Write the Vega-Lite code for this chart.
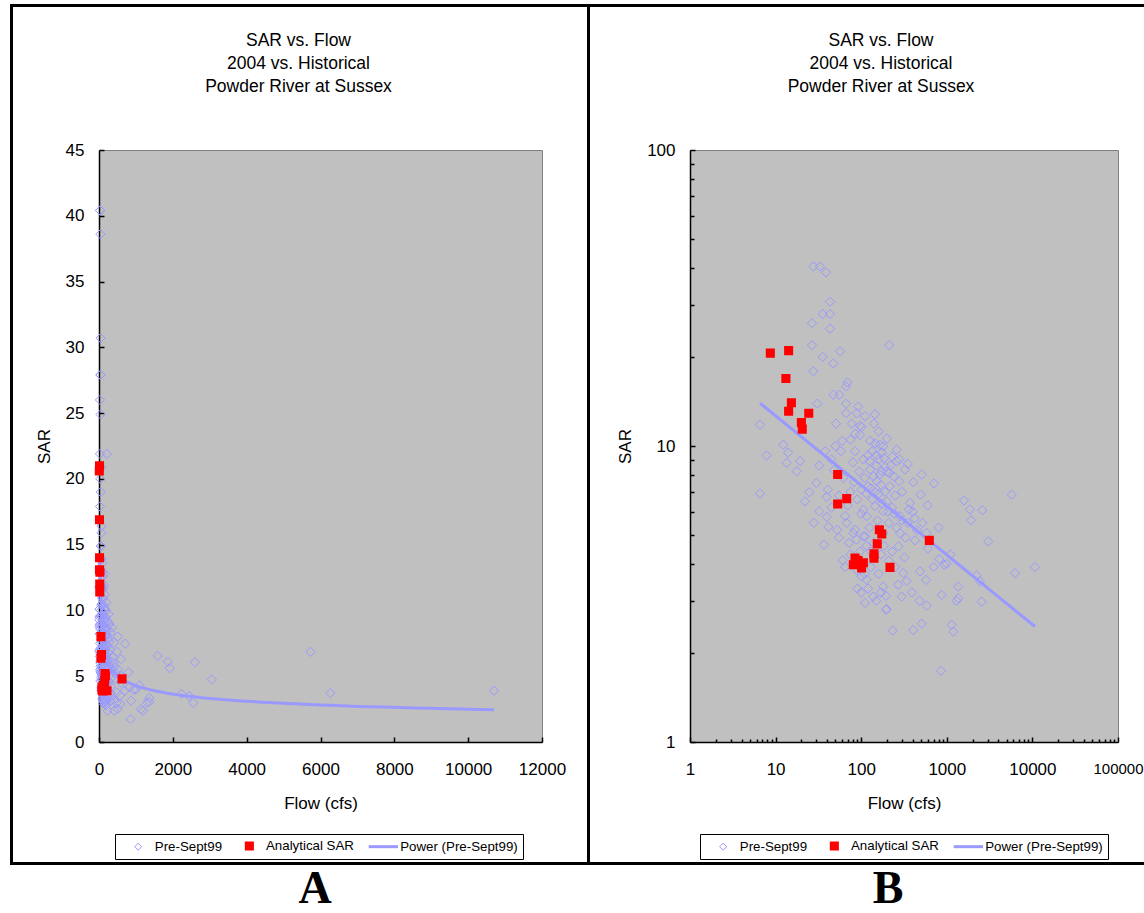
{
  "$schema": "https://vega.github.io/schema/vega-lite/v6.json",
  "padding": {"left": 10, "top": 4, "right": 0, "bottom": 0},
  "background": "#ffffff",
  "datasets": {
    "one": [{"k": 1}],
    "pts": [
      {"Q":27.6,"SAR":40.4,"series":"Pre-Sept99"},{"Q":33,"SAR":40.4,"series":"Pre-Sept99"},{"Q":38.8,"SAR":38.6,"series":"Pre-Sept99"},
      {"Q":43.2,"SAR":30.7,"series":"Pre-Sept99"},{"Q":35.5,"SAR":27.9,"series":"Pre-Sept99"},{"Q":43.2,"SAR":27.9,"series":"Pre-Sept99"},
      {"Q":26.6,"SAR":26.0,"series":"Pre-Sept99"},{"Q":43.2,"SAR":24.9,"series":"Pre-Sept99"},{"Q":26.6,"SAR":21.9,"series":"Pre-Sept99"},
      {"Q":56.6,"SAR":20.9,"series":"Pre-Sept99"},{"Q":35.5,"SAR":20.0,"series":"Pre-Sept99"},{"Q":47.2,"SAR":19.0,"series":"Pre-Sept99"},
      {"Q":27.6,"SAR":17.9,"series":"Pre-Sept99"},{"Q":213,"SAR":21.9,"series":"Pre-Sept99"},{"Q":68.8,"SAR":16.4,"series":"Pre-Sept99"},
      {"Q":66.4,"SAR":15.9,"series":"Pre-Sept99"},{"Q":47.2,"SAR":14.9,"series":"Pre-Sept99"},{"Q":55.5,"SAR":14.9,"series":"Pre-Sept99"},
      {"Q":30.7,"SAR":13.9,"series":"Pre-Sept99"},{"Q":66.4,"SAR":13.9,"series":"Pre-Sept99"},{"Q":92.5,"SAR":13.6,"series":"Pre-Sept99"},
      {"Q":88.5,"SAR":12.9,"series":"Pre-Sept99"},{"Q":66.4,"SAR":12.9,"series":"Pre-Sept99"},{"Q":6.57,"SAR":11.8,"series":"Pre-Sept99"},
      {"Q":50.8,"SAR":11.9,"series":"Pre-Sept99"},{"Q":77.4,"SAR":11.9,"series":"Pre-Sept99"},{"Q":96.8,"SAR":11.7,"series":"Pre-Sept99"},
      {"Q":141,"SAR":11.9,"series":"Pre-Sept99"},{"Q":96.8,"SAR":10.9,"series":"Pre-Sept99"},{"Q":12.3,"SAR":10.1,"series":"Pre-Sept99"},
      {"Q":7.87,"SAR":9.29,"series":"Pre-Sept99"},{"Q":13.5,"SAR":8.77,"series":"Pre-Sept99"},{"Q":19.3,"SAR":8.89,"series":"Pre-Sept99"},
      {"Q":17.6,"SAR":8.22,"series":"Pre-Sept99"},{"Q":32.4,"SAR":8.59,"series":"Pre-Sept99"},{"Q":6.57,"SAR":6.91,"series":"Pre-Sept99"},
      {"Q":24.8,"SAR":6.98,"series":"Pre-Sept99"},{"Q":40.6,"SAR":7.12,"series":"Pre-Sept99"},{"Q":39.5,"SAR":6.73,"series":"Pre-Sept99"},
      {"Q":32.4,"SAR":6.02,"series":"Pre-Sept99"},{"Q":39.5,"SAR":5.76,"series":"Pre-Sept99"},{"Q":41.3,"SAR":5.33,"series":"Pre-Sept99"},
      {"Q":67.7,"SAR":5.5,"series":"Pre-Sept99"},{"Q":52.6,"SAR":5.21,"series":"Pre-Sept99"},{"Q":36.7,"SAR":4.64,"series":"Pre-Sept99"},
      {"Q":60.8,"SAR":4.11,"series":"Pre-Sept99"},{"Q":80.9,"SAR":5.08,"series":"Pre-Sept99"},{"Q":88.5,"SAR":4.83,"series":"Pre-Sept99"},
      {"Q":106,"SAR":4.95,"series":"Pre-Sept99"},{"Q":96.8,"SAR":4.4,"series":"Pre-Sept99"},{"Q":101,"SAR":3.63,"series":"Pre-Sept99"},
      {"Q":116,"SAR":3.53,"series":"Pre-Sept99"},{"Q":111,"SAR":2.95,"series":"Pre-Sept99"},{"Q":138,"SAR":3.1,"series":"Pre-Sept99"},
      {"Q":181,"SAR":3.35,"series":"Pre-Sept99"},{"Q":195,"SAR":3.12,"series":"Pre-Sept99"},{"Q":195,"SAR":2.8,"series":"Pre-Sept99"},
      {"Q":233,"SAR":2.38,"series":"Pre-Sept99"},{"Q":111,"SAR":12.6,"series":"Pre-Sept99"},{"Q":101,"SAR":11.6,"series":"Pre-Sept99"},
      {"Q":127,"SAR":10.4,"series":"Pre-Sept99"},{"Q":84.7,"SAR":9.6,"series":"Pre-Sept99"},{"Q":181,"SAR":9.98,"series":"Pre-Sept99"},
      {"Q":259,"SAR":9.73,"series":"Pre-Sept99"},{"Q":106,"SAR":9.0,"series":"Pre-Sept99"},{"Q":159,"SAR":9.0,"series":"Pre-Sept99"},
      {"Q":259,"SAR":8.89,"series":"Pre-Sept99"},{"Q":127,"SAR":8.33,"series":"Pre-Sept99"},{"Q":174,"SAR":8.22,"series":"Pre-Sept99"},
      {"Q":325,"SAR":8.33,"series":"Pre-Sept99"},{"Q":213,"SAR":8.11,"series":"Pre-Sept99"},{"Q":509,"SAR":8.01,"series":"Pre-Sept99"},
      {"Q":82.4,"SAR":7.54,"series":"Pre-Sept99"},{"Q":152,"SAR":7.6,"series":"Pre-Sept99"},{"Q":279,"SAR":7.6,"series":"Pre-Sept99"},
      {"Q":406,"SAR":7.54,"series":"Pre-Sept99"},{"Q":708,"SAR":7.47,"series":"Pre-Sept99"},{"Q":101,"SAR":7.12,"series":"Pre-Sept99"},
      {"Q":217,"SAR":7.31,"series":"Pre-Sept99"},{"Q":495,"SAR":6.85,"series":"Pre-Sept99"},{"Q":5730,"SAR":6.85,"series":"Pre-Sept99"},
      {"Q":106,"SAR":6.1,"series":"Pre-Sept99"},{"Q":145,"SAR":6.26,"series":"Pre-Sept99"},{"Q":181,"SAR":6.02,"series":"Pre-Sept99"},
      {"Q":372,"SAR":6.42,"series":"Pre-Sept99"},{"Q":1588,"SAR":6.55,"series":"Pre-Sept99"},{"Q":1866,"SAR":6.1,"series":"Pre-Sept99"},
      {"Q":2600,"SAR":6.07,"series":"Pre-Sept99"},{"Q":1918,"SAR":5.61,"series":"Pre-Sept99"},{"Q":116,"SAR":5.79,"series":"Pre-Sept99"},
      {"Q":284,"SAR":5.79,"series":"Pre-Sept99"},{"Q":84.7,"SAR":5.21,"series":"Pre-Sept99"},{"Q":111,"SAR":4.95,"series":"Pre-Sept99"},
      {"Q":181,"SAR":5.08,"series":"Pre-Sept99"},{"Q":284,"SAR":5.08,"series":"Pre-Sept99"},{"Q":425,"SAR":4.8,"series":"Pre-Sept99"},
      {"Q":582,"SAR":5.08,"series":"Pre-Sept99"},{"Q":3054,"SAR":4.76,"series":"Pre-Sept99"},{"Q":272,"SAR":4.58,"series":"Pre-Sept99"},
      {"Q":817,"SAR":4.15,"series":"Pre-Sept99"},{"Q":935,"SAR":3.97,"series":"Pre-Sept99"},{"Q":310,"SAR":3.72,"series":"Pre-Sept99"},
      {"Q":486,"SAR":3.77,"series":"Pre-Sept99"},{"Q":2234,"SAR":3.65,"series":"Pre-Sept99"},{"Q":2443,"SAR":3.49,"series":"Pre-Sept99"},
      {"Q":6266,"SAR":3.72,"series":"Pre-Sept99"},{"Q":10700,"SAR":3.9,"series":"Pre-Sept99"},{"Q":1362,"SAR":3.35,"series":"Pre-Sept99"},
      {"Q":571,"SAR":3.53,"series":"Pre-Sept99"},{"Q":297,"SAR":3.1,"series":"Pre-Sept99"},{"Q":871,"SAR":3.14,"series":"Pre-Sept99"},
      {"Q":1362,"SAR":3.06,"series":"Pre-Sept99"},{"Q":2555,"SAR":2.98,"series":"Pre-Sept99"},{"Q":198,"SAR":2.81,"series":"Pre-Sept99"},
      {"Q":582,"SAR":2.89,"series":"Pre-Sept99"},{"Q":1140,"SAR":2.49,"series":"Pre-Sept99"},{"Q":1190,"SAR":2.36,"series":"Pre-Sept99"},
      {"Q":509,"SAR":2.51,"series":"Pre-Sept99"},{"Q":406,"SAR":2.39,"series":"Pre-Sept99"},{"Q":855,"SAR":1.74,"series":"Pre-Sept99"},
      {"Q":150,"SAR":8.6,"series":"Pre-Sept99"},{"Q":165,"SAR":8.0,"series":"Pre-Sept99"},{"Q":140,"SAR":7.9,"series":"Pre-Sept99"},
      {"Q":170,"SAR":7.4,"series":"Pre-Sept99"},{"Q":190,"SAR":7.0,"series":"Pre-Sept99"},{"Q":160,"SAR":6.9,"series":"Pre-Sept99"},
      {"Q":135,"SAR":6.6,"series":"Pre-Sept99"},{"Q":200,"SAR":6.5,"series":"Pre-Sept99"},{"Q":230,"SAR":6.2,"series":"Pre-Sept99"},
      {"Q":120,"SAR":7.3,"series":"Pre-Sept99"},{"Q":175,"SAR":9.5,"series":"Pre-Sept99"},{"Q":145,"SAR":10.2,"series":"Pre-Sept99"},
      {"Q":120,"SAR":9.3,"series":"Pre-Sept99"},{"Q":230,"SAR":9.2,"series":"Pre-Sept99"},{"Q":190,"SAR":8.5,"series":"Pre-Sept99"},
      {"Q":155,"SAR":5.6,"series":"Pre-Sept99"},{"Q":125,"SAR":5.3,"series":"Pre-Sept99"},{"Q":210,"SAR":5.5,"series":"Pre-Sept99"},
      {"Q":250,"SAR":6.8,"series":"Pre-Sept99"},{"Q":300,"SAR":7.0,"series":"Pre-Sept99"},{"Q":140,"SAR":4.7,"series":"Pre-Sept99"},
      {"Q":170,"SAR":4.3,"series":"Pre-Sept99"},{"Q":230,"SAR":4.4,"series":"Pre-Sept99"},{"Q":130,"SAR":3.9,"series":"Pre-Sept99"},
      {"Q":160,"SAR":3.7,"series":"Pre-Sept99"},{"Q":90,"SAR":3.8,"series":"Pre-Sept99"},{"Q":75,"SAR":4.3,"series":"Pre-Sept99"},
      {"Q":70,"SAR":6.3,"series":"Pre-Sept99"},{"Q":62,"SAR":7.8,"series":"Pre-Sept99"},{"Q":58,"SAR":9.6,"series":"Pre-Sept99"},
      {"Q":75,"SAR":10.5,"series":"Pre-Sept99"},{"Q":48,"SAR":8.3,"series":"Pre-Sept99"},{"Q":45,"SAR":6.2,"series":"Pre-Sept99"},
      {"Q":55,"SAR":4.9,"series":"Pre-Sept99"},{"Q":120,"SAR":3.3,"series":"Pre-Sept99"},{"Q":150,"SAR":3.0,"series":"Pre-Sept99"},
      {"Q":100,"SAR":3.2,"series":"Pre-Sept99"},{"Q":65,"SAR":3.9,"series":"Pre-Sept99"},{"Q":350,"SAR":5.5,"series":"Pre-Sept99"},
      {"Q":400,"SAR":6.0,"series":"Pre-Sept99"},{"Q":450,"SAR":5.2,"series":"Pre-Sept99"},{"Q":320,"SAR":4.2,"series":"Pre-Sept99"},
      {"Q":600,"SAR":4.5,"series":"Pre-Sept99"},{"Q":700,"SAR":3.9,"series":"Pre-Sept99"},{"Q":1000,"SAR":4.0,"series":"Pre-Sept99"},
      {"Q":1300,"SAR":3.0,"series":"Pre-Sept99"},{"Q":14,"SAR":9.5,"series":"Pre-Sept99"},
      {"Q":95,"SAR":8.2,"series":"Pre-Sept99"},{"Q":110,"SAR":7.8,"series":"Pre-Sept99"},{"Q":125,"SAR":8.9,"series":"Pre-Sept99"},
      {"Q":135,"SAR":9.6,"series":"Pre-Sept99"},{"Q":150,"SAR":9.3,"series":"Pre-Sept99"},{"Q":165,"SAR":10.1,"series":"Pre-Sept99"},
      {"Q":185,"SAR":9.1,"series":"Pre-Sept99"},{"Q":200,"SAR":8.2,"series":"Pre-Sept99"},{"Q":220,"SAR":8.6,"series":"Pre-Sept99"},
      {"Q":240,"SAR":7.9,"series":"Pre-Sept99"},{"Q":115,"SAR":6.9,"series":"Pre-Sept99"},{"Q":130,"SAR":7.2,"series":"Pre-Sept99"},
      {"Q":145,"SAR":7.0,"series":"Pre-Sept99"},{"Q":175,"SAR":6.4,"series":"Pre-Sept99"},{"Q":205,"SAR":6.0,"series":"Pre-Sept99"},
      {"Q":245,"SAR":5.9,"series":"Pre-Sept99"},{"Q":260,"SAR":5.3,"series":"Pre-Sept99"},{"Q":300,"SAR":5.6,"series":"Pre-Sept99"},
      {"Q":330,"SAR":4.9,"series":"Pre-Sept99"},{"Q":360,"SAR":6.1,"series":"Pre-Sept99"},{"Q":420,"SAR":5.7,"series":"Pre-Sept99"},
      {"Q":520,"SAR":5.5,"series":"Pre-Sept99"},{"Q":90,"SAR":6.6,"series":"Pre-Sept99"},{"Q":100,"SAR":5.9,"series":"Pre-Sept99"},
      {"Q":115,"SAR":4.6,"series":"Pre-Sept99"},{"Q":130,"SAR":4.4,"series":"Pre-Sept99"},{"Q":185,"SAR":4.6,"series":"Pre-Sept99"},
      {"Q":210,"SAR":4.1,"series":"Pre-Sept99"},{"Q":250,"SAR":3.9,"series":"Pre-Sept99"},{"Q":270,"SAR":3.4,"series":"Pre-Sept99"},
      {"Q":340,"SAR":3.5,"series":"Pre-Sept99"},{"Q":390,"SAR":3.2,"series":"Pre-Sept99"},{"Q":480,"SAR":3.0,"series":"Pre-Sept99"},
      {"Q":110,"SAR":3.7,"series":"Pre-Sept99"},{"Q":90,"SAR":3.3,"series":"Pre-Sept99"},{"Q":170,"SAR":3.2,"series":"Pre-Sept99"},
      {"Q":75,"SAR":7.0,"series":"Pre-Sept99"},{"Q":80,"SAR":8.8,"series":"Pre-Sept99"},{"Q":85,"SAR":11.0,"series":"Pre-Sept99"},
      {"Q":60,"SAR":10.4,"series":"Pre-Sept99"},{"Q":50,"SAR":10.0,"series":"Pre-Sept99"},{"Q":45,"SAR":9.0,"series":"Pre-Sept99"},
      {"Q":38,"SAR":9.6,"series":"Pre-Sept99"},{"Q":30,"SAR":7.5,"series":"Pre-Sept99"},{"Q":22,"SAR":6.5,"series":"Pre-Sept99"},
      {"Q":28,"SAR":5.5,"series":"Pre-Sept99"},{"Q":55,"SAR":6.8,"series":"Pre-Sept99"},{"Q":65,"SAR":5.8,"series":"Pre-Sept99"},
      {"Q":72,"SAR":4.7,"series":"Pre-Sept99"},{"Q":145,"SAR":12.8,"series":"Pre-Sept99"},{"Q":160,"SAR":11.2,"series":"Pre-Sept99"},
      {"Q":200,"SAR":10.6,"series":"Pre-Sept99"},{"Q":280,"SAR":9.0,"series":"Pre-Sept99"},{"Q":350,"SAR":8.7,"series":"Pre-Sept99"},
      {"Q":600,"SAR":6.3,"series":"Pre-Sept99"},{"Q":800,"SAR":5.3,"series":"Pre-Sept99"},{"Q":1100,"SAR":4.3,"series":"Pre-Sept99"},
      {"Q":8.68,"SAR":20.6,"series":"Analytical SAR"},{"Q":14.2,"SAR":21.0,"series":"Analytical SAR"},{"Q":13.2,"SAR":16.9,"series":"Analytical SAR"},
      {"Q":15.3,"SAR":14.0,"series":"Analytical SAR"},{"Q":14.2,"SAR":13.1,"series":"Analytical SAR"},{"Q":24.4,"SAR":12.9,"series":"Analytical SAR"},
      {"Q":20.0,"SAR":12.0,"series":"Analytical SAR"},{"Q":20.5,"SAR":11.4,"series":"Analytical SAR"},{"Q":53.1,"SAR":8.01,"series":"Analytical SAR"},
      {"Q":67.7,"SAR":6.64,"series":"Analytical SAR"},{"Q":53.1,"SAR":6.37,"series":"Analytical SAR"},{"Q":163,"SAR":5.21,"series":"Analytical SAR"},
      {"Q":174,"SAR":5.04,"series":"Analytical SAR"},{"Q":154,"SAR":4.67,"series":"Analytical SAR"},{"Q":141,"SAR":4.32,"series":"Analytical SAR"},
      {"Q":141,"SAR":4.18,"series":"Analytical SAR"},{"Q":84.7,"SAR":4.18,"series":"Analytical SAR"},{"Q":80.9,"SAR":3.97,"series":"Analytical SAR"},
      {"Q":106,"SAR":4.03,"series":"Analytical SAR"},{"Q":101,"SAR":3.87,"series":"Analytical SAR"},{"Q":92,"SAR":4.1,"series":"Analytical SAR"},
      {"Q":217,"SAR":3.89,"series":"Analytical SAR"},{"Q":625,"SAR":4.8,"series":"Analytical SAR"}
    ]
  },
  "columns": 8,
  "spacing": 0,
  "bounds": "flush",
  "align": "each",
  "resolve": {
    "scale": {"shape": "independent", "fill": "independent", "stroke": "independent", "strokeWidth": "independent"},
    "legend": {"shape": "independent", "fill": "independent", "stroke": "independent", "strokeWidth": "independent"}
  },
  "concat": [
    {"width": 3, "height": 3, "data": {"name": "one"}, "mark": {"type": "rect", "color": "#000"}, "encoding": {}, "view": {"stroke": null, "fill": "#000"}},
    {"width": 86, "height": 3, "data": {"name": "one"}, "mark": {"type": "rect", "color": "#000"}, "encoding": {}, "view": {"stroke": null, "fill": "#000"}},
    {"width": 443, "height": 3, "data": {"name": "one"}, "mark": {"type": "rect", "color": "#000"}, "encoding": {}, "view": {"stroke": null, "fill": "#000"}},
    {"width": 45, "height": 3, "data": {"name": "one"}, "mark": {"type": "rect", "color": "#000"}, "encoding": {}, "view": {"stroke": null, "fill": "#000"}},
    {"width": 3, "height": 3, "data": {"name": "one"}, "mark": {"type": "rect", "color": "#000"}, "encoding": {}, "view": {"stroke": null, "fill": "#000"}},
    {"width": 100, "height": 3, "data": {"name": "one"}, "mark": {"type": "rect", "color": "#000"}, "encoding": {}, "view": {"stroke": null, "fill": "#000"}},
    {"width": 428, "height": 3, "data": {"name": "one"}, "mark": {"type": "rect", "color": "#000"}, "encoding": {}, "view": {"stroke": null, "fill": "#000"}},
    {"width": 26, "height": 3, "data": {"name": "one"}, "mark": {"type": "rect", "color": "#000"}, "encoding": {}, "view": {"stroke": null, "fill": "#000"}},

    {"width": 3, "height": 143, "data": {"name": "one"}, "mark": {"type": "rect", "color": "#000"}, "encoding": {}, "view": {"stroke": null, "fill": "#000"}},
    {"width": 1, "height": 1, "data": {"name": "one"}, "mark": {"type": "rect", "opacity": 0}, "encoding": {}},
    {"width": 1, "height": 1, "data": {"name": "one"}, "mark": {"type": "rect", "opacity": 0}, "encoding": {}},
    {"width": 1, "height": 1, "data": {"name": "one"}, "mark": {"type": "rect", "opacity": 0}, "encoding": {}},
    {"width": 3, "height": 143, "data": {"name": "one"}, "mark": {"type": "rect", "color": "#000"}, "encoding": {}, "view": {"stroke": null, "fill": "#000"}},
    {"width": 1, "height": 1, "data": {"name": "one"}, "mark": {"type": "rect", "opacity": 0}, "encoding": {}},
    {"width": 1, "height": 1, "data": {"name": "one"}, "mark": {"type": "rect", "opacity": 0}, "encoding": {}},
    {"width": 1, "height": 1, "data": {"name": "one"}, "mark": {"type": "rect", "opacity": 0}, "encoding": {}},

    {"width": 3, "height": 592, "data": {"name": "one"}, "mark": {"type": "rect", "color": "#000"}, "encoding": {}, "view": {"stroke": null, "fill": "#000"}},
    {"width": 1, "height": 1, "data": {"name": "one"}, "mark": {"type": "rect", "opacity": 0}, "encoding": {}},
    {
      "width": 443, "height": 592,
      "title": {"text": ["SAR vs. Flow", "2004 vs. Historical", "Powder River at Sussex"], "dx": -22, "offset": 46},
      "view": {"fill": "#C0C0C0", "stroke": "#808080", "strokeWidth": 1},
      "data": {"name": "pts"},
      "encoding": {
        "x": {"field": "Q", "type": "quantitative", "scale": {"domain": [0, 12000], "nice": false, "zero": false},
              "axis": {"values": [0, 2000, 4000, 6000, 8000, 10000, 12000], "format": "d", "title": "Flow (cfs)"}},
        "y": {"field": "SAR", "type": "quantitative", "scale": {"domain": [0, 45], "nice": false},
              "axis": {"values": [0, 5, 10, 15, 20, 25, 30, 35, 40, 45], "title": "SAR"}}
      },
      "layer": [
        {
          "transform": [{"filter": "datum.series === 'Pre-Sept99'"}],
          "mark": {"type": "point", "size": 85, "opacity": 1},
          "encoding": {
            "shape": {"field": "series", "type": "nominal", "title": null, "legend": {"orient": "none", "legendX": 16, "legendY": 684}, "scale": {"domain": ["Pre-Sept99", "Analytical SAR", "Power (Pre-Sept99)"], "range": ["diamond", "square", "M-4.2,0L4.1,0"]}},
            "fill": {"field": "series", "type": "nominal", "title": null, "legend": {"orient": "none", "legendX": 16, "legendY": 684}, "scale": {"domain": ["Pre-Sept99", "Analytical SAR", "Power (Pre-Sept99)"], "range": ["transparent", "#FF0000", "transparent"]}},
            "stroke": {"field": "series", "type": "nominal", "title": null, "legend": {"orient": "none", "legendX": 16, "legendY": 684}, "scale": {"domain": ["Pre-Sept99", "Analytical SAR", "Power (Pre-Sept99)"], "range": ["#9999FF", "#FF0000", "#9999FF"]}},
            "strokeWidth": {"field": "series", "type": "nominal", "title": null, "legend": {"orient": "none", "legendX": 16, "legendY": 684}, "scale": {"domain": ["Pre-Sept99", "Analytical SAR", "Power (Pre-Sept99)"], "range": [1, 3]}}
          }
        },
        {
          "transform": [
            {"filter": "datum.series === 'Pre-Sept99'"},
            {"regression": "SAR", "on": "Q", "method": "pow", "extent": [6.6, 10700]}
          ],
          "mark": {"type": "line", "color": "#9999FF", "strokeWidth": 3}
        },
        {
          "transform": [{"filter": "datum.series === 'Analytical SAR'"}],
          "mark": {"type": "point", "size": 50, "opacity": 1},
          "encoding": {
            "shape": {"field": "series", "type": "nominal", "title": null, "legend": {"orient": "none", "legendX": 16, "legendY": 684}, "scale": {"domain": ["Pre-Sept99", "Analytical SAR", "Power (Pre-Sept99)"], "range": ["diamond", "square", "M-4.2,0L4.1,0"]}},
            "fill": {"field": "series", "type": "nominal", "title": null, "legend": {"orient": "none", "legendX": 16, "legendY": 684}, "scale": {"domain": ["Pre-Sept99", "Analytical SAR", "Power (Pre-Sept99)"], "range": ["transparent", "#FF0000", "transparent"]}},
            "stroke": {"field": "series", "type": "nominal", "title": null, "legend": {"orient": "none", "legendX": 16, "legendY": 684}, "scale": {"domain": ["Pre-Sept99", "Analytical SAR", "Power (Pre-Sept99)"], "range": ["#9999FF", "#FF0000", "#9999FF"]}},
            "strokeWidth": {"field": "series", "type": "nominal", "title": null, "legend": {"orient": "none", "legendX": 16, "legendY": 684}, "scale": {"domain": ["Pre-Sept99", "Analytical SAR", "Power (Pre-Sept99)"], "range": [1, 3]}}
          }
        }
      ]
    },
    {"width": 1, "height": 1, "data": {"name": "one"}, "mark": {"type": "rect", "opacity": 0}, "encoding": {}},
    {"width": 3, "height": 592, "data": {"name": "one"}, "mark": {"type": "rect", "color": "#000"}, "encoding": {}, "view": {"stroke": null, "fill": "#000"}},
    {"width": 1, "height": 1, "data": {"name": "one"}, "mark": {"type": "rect", "opacity": 0}, "encoding": {}},
    {
      "width": 428, "height": 592,
      "title": {"text": ["SAR vs. Flow", "2004 vs. Historical", "Powder River at Sussex"], "dx": -23, "offset": 46},
      "view": {"fill": "#C0C0C0", "stroke": "#808080", "strokeWidth": 1},
      "data": {"name": "pts"},
      "resolve": {"axis": {"x": "independent", "y": "independent"}},
      "layer": [
        {
          "transform": [{"filter": "datum.series === 'Pre-Sept99'"}],
          "mark": {"type": "point", "size": 85, "opacity": 1},
          "encoding": {
            "x": {"field": "Q", "type": "quantitative", "scale": {"type": "log", "domain": [1, 100000], "nice": false},
                  "axis": {"values": [1, 10, 100, 1000, 10000, 100000], "format": "d", "title": "Flow (cfs)", "orient": "bottom",
                           "labelFontSize": {"condition": {"test": "datum.value >= 100000", "value": 15}, "value": 17}}},
            "y": {"field": "SAR", "type": "quantitative", "scale": {"type": "log", "domain": [1, 100], "nice": false},
                  "axis": {"values": [1, 10, 100], "format": "d", "title": "SAR", "orient": "left"}},
            "shape": {"field": "series", "type": "nominal", "title": null, "legend": {"orient": "none", "legendX": 10, "legendY": 684}, "scale": {"domain": ["Pre-Sept99", "Analytical SAR", "Power (Pre-Sept99)"], "range": ["diamond", "square", "M-4.2,0L4.1,0"]}},
            "fill": {"field": "series", "type": "nominal", "title": null, "legend": {"orient": "none", "legendX": 10, "legendY": 684}, "scale": {"domain": ["Pre-Sept99", "Analytical SAR", "Power (Pre-Sept99)"], "range": ["transparent", "#FF0000", "transparent"]}},
            "stroke": {"field": "series", "type": "nominal", "title": null, "legend": {"orient": "none", "legendX": 10, "legendY": 684}, "scale": {"domain": ["Pre-Sept99", "Analytical SAR", "Power (Pre-Sept99)"], "range": ["#9999FF", "#FF0000", "#9999FF"]}},
            "strokeWidth": {"field": "series", "type": "nominal", "title": null, "legend": {"orient": "none", "legendX": 10, "legendY": 684}, "scale": {"domain": ["Pre-Sept99", "Analytical SAR", "Power (Pre-Sept99)"], "range": [1, 3]}}
          }
        },
        {
          "transform": [
            {"filter": "datum.series === 'Pre-Sept99'"},
            {"regression": "SAR", "on": "Q", "method": "pow", "extent": [6.6, 10700]}
          ],
          "mark": {"type": "line", "color": "#9999FF", "strokeWidth": 3},
          "encoding": {
            "x": {"field": "Q", "type": "quantitative", "axis": null},
            "y": {"field": "SAR", "type": "quantitative", "axis": null}
          }
        },
        {
          "transform": [{"filter": "datum.series === 'Analytical SAR'"}],
          "mark": {"type": "point", "size": 50, "opacity": 1},
          "encoding": {
            "x": {"field": "Q", "type": "quantitative",
                  "axis": {"values": [2,3,4,5,6,7,8,9,20,30,40,50,60,70,80,90,200,300,400,500,600,700,800,900,2000,3000,4000,5000,6000,7000,8000,9000,20000,30000,40000,50000,60000,70000,80000,90000],
                           "labels": false, "domain": false, "title": null, "tickSize": -3, "orient": "bottom"}},
            "y": {"field": "SAR", "type": "quantitative",
                  "axis": {"values": [2,3,4,5,6,7,8,9,20,30,40,50,60,70,80,90], "labels": false, "domain": false, "title": null, "tickSize": -4, "orient": "left"}},
            "shape": {"field": "series", "type": "nominal", "title": null, "legend": {"orient": "none", "legendX": 10, "legendY": 684}, "scale": {"domain": ["Pre-Sept99", "Analytical SAR", "Power (Pre-Sept99)"], "range": ["diamond", "square", "M-4.2,0L4.1,0"]}},
            "fill": {"field": "series", "type": "nominal", "title": null, "legend": {"orient": "none", "legendX": 10, "legendY": 684}, "scale": {"domain": ["Pre-Sept99", "Analytical SAR", "Power (Pre-Sept99)"], "range": ["transparent", "#FF0000", "transparent"]}},
            "stroke": {"field": "series", "type": "nominal", "title": null, "legend": {"orient": "none", "legendX": 10, "legendY": 684}, "scale": {"domain": ["Pre-Sept99", "Analytical SAR", "Power (Pre-Sept99)"], "range": ["#9999FF", "#FF0000", "#9999FF"]}},
            "strokeWidth": {"field": "series", "type": "nominal", "title": null, "legend": {"orient": "none", "legendX": 10, "legendY": 684}, "scale": {"domain": ["Pre-Sept99", "Analytical SAR", "Power (Pre-Sept99)"], "range": [1, 3]}}
          }
        }
      ]
    },
    {"width": 1, "height": 1, "data": {"name": "one"}, "mark": {"type": "rect", "opacity": 0}, "encoding": {}},

    {"width": 3, "height": 120, "data": {"name": "one"}, "mark": {"type": "rect", "color": "#000"}, "encoding": {}, "view": {"stroke": null, "fill": "#000"}},
    {"width": 1, "height": 1, "data": {"name": "one"}, "mark": {"type": "rect", "opacity": 0}, "encoding": {}},
    {"width": 1, "height": 1, "data": {"name": "one"}, "mark": {"type": "rect", "opacity": 0}, "encoding": {}},
    {"width": 1, "height": 1, "data": {"name": "one"}, "mark": {"type": "rect", "opacity": 0}, "encoding": {}},
    {"width": 3, "height": 120, "data": {"name": "one"}, "mark": {"type": "rect", "color": "#000"}, "encoding": {}, "view": {"stroke": null, "fill": "#000"}},
    {"width": 1, "height": 1, "data": {"name": "one"}, "mark": {"type": "rect", "opacity": 0}, "encoding": {}},
    {"width": 1, "height": 1, "data": {"name": "one"}, "mark": {"type": "rect", "opacity": 0}, "encoding": {}},
    {"width": 1, "height": 1, "data": {"name": "one"}, "mark": {"type": "rect", "opacity": 0}, "encoding": {}},

    {"width": 3, "height": 3, "data": {"name": "one"}, "mark": {"type": "rect", "color": "#000"}, "encoding": {}, "view": {"stroke": null, "fill": "#000"}},
    {"width": 86, "height": 3, "data": {"name": "one"}, "mark": {"type": "rect", "color": "#000"}, "encoding": {}, "view": {"stroke": null, "fill": "#000"}},
    {"width": 443, "height": 3, "data": {"name": "one"}, "mark": {"type": "rect", "color": "#000"}, "encoding": {}, "view": {"stroke": null, "fill": "#000"}},
    {"width": 45, "height": 3, "data": {"name": "one"}, "mark": {"type": "rect", "color": "#000"}, "encoding": {}, "view": {"stroke": null, "fill": "#000"}},
    {"width": 3, "height": 3, "data": {"name": "one"}, "mark": {"type": "rect", "color": "#000"}, "encoding": {}, "view": {"stroke": null, "fill": "#000"}},
    {"width": 100, "height": 3, "data": {"name": "one"}, "mark": {"type": "rect", "color": "#000"}, "encoding": {}, "view": {"stroke": null, "fill": "#000"}},
    {"width": 428, "height": 3, "data": {"name": "one"}, "mark": {"type": "rect", "color": "#000"}, "encoding": {}, "view": {"stroke": null, "fill": "#000"}},
    {"width": 26, "height": 3, "data": {"name": "one"}, "mark": {"type": "rect", "color": "#000"}, "encoding": {}, "view": {"stroke": null, "fill": "#000"}},

    {"width": 1, "height": 1, "data": {"name": "one"}, "mark": {"type": "rect", "opacity": 0}, "encoding": {}},
    {"width": 1, "height": 1, "data": {"name": "one"}, "mark": {"type": "rect", "opacity": 0}, "encoding": {}},
    {"width": 443, "height": 40, "data": {"values": [{"label": "A"}]},
     "mark": {"type": "text", "font": "Liberation Serif", "fontWeight": "bold", "fontSize": 46, "color": "#000", "baseline": "alphabetic", "dx": -5.5, "dy": 18},
     "encoding": {"text": {"field": "label", "type": "nominal"}}},
    {"width": 1, "height": 1, "data": {"name": "one"}, "mark": {"type": "rect", "opacity": 0}, "encoding": {}},
    {"width": 1, "height": 1, "data": {"name": "one"}, "mark": {"type": "rect", "opacity": 0}, "encoding": {}},
    {"width": 1, "height": 1, "data": {"name": "one"}, "mark": {"type": "rect", "opacity": 0}, "encoding": {}},
    {"width": 428, "height": 40, "data": {"values": [{"label": "B"}]},
     "mark": {"type": "text", "font": "Liberation Serif", "fontWeight": "bold", "fontSize": 46, "color": "#000", "baseline": "alphabetic", "dx": -16, "dy": 18},
     "encoding": {"text": {"field": "label", "type": "nominal"}}},
    {"width": 1, "height": 1, "data": {"name": "one"}, "mark": {"type": "rect", "opacity": 0}, "encoding": {}}
  ],
  "config": {
    "font": "Liberation Sans",
    "view": {"stroke": null},
    "axis": {
      "domainColor": "#000", "domainWidth": 1.5, "tickColor": "#000", "tickWidth": 1.5, "tickSize": -5,
      "labelFont": "Liberation Sans", "labelFontSize": 17, "labelColor": "#000",
      "titleFont": "Liberation Sans", "titleFontSize": 17, "titleFontWeight": "normal", "titleColor": "#000",
      "grid": false, "labelFlush": false, "labelOverlap": false
    },
    "axisX": {"labelPadding": 24, "titlePadding": 18},
    "axisY": {"labelPadding": 20, "titlePadding": 12},
    "legend": {
      "direction": "horizontal", "strokeColor": "#000", "fillColor": "#fff",
      "padding": 5, "labelFont": "Liberation Sans", "labelFontSize": 13.3, "labelColor": "#000",
      "symbolSize": 50, "symbolOffset": 11.5, "labelOffset": 10, "columnPadding": 8.2
    },
    "title": {"font": "Liberation Sans", "fontSize": 17.5, "fontWeight": "normal", "color": "#000", "lineHeight": 23, "anchor": "middle"}
  }
}
